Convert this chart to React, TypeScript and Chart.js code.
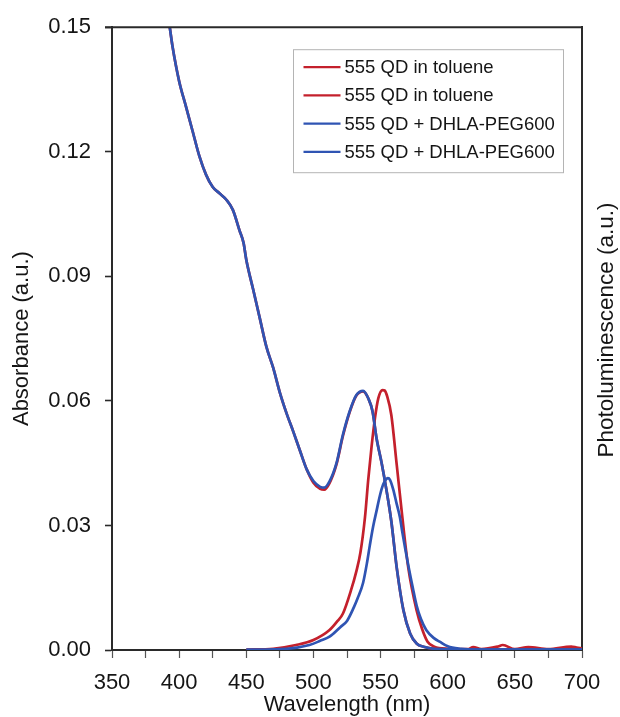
import React, { useEffect, useRef } from "react";
import { Chart, registerables } from "chart.js";

Chart.register(...registerables);

// ---- Data ----
const absWavelength = [385, 390, 393, 395, 400, 405, 410, 415, 420, 425, 430, 435, 440, 445, 448, 450, 455, 460, 465, 470, 475, 480, 485, 490, 495, 500, 505, 508, 512, 517, 522, 527, 532, 537, 541, 544, 547, 551, 554.5, 558, 562, 567, 572, 577, 582, 590, 620, 660, 700];
const absToluene = [0.166, 0.156, 0.150, 0.1455, 0.137, 0.131, 0.125, 0.119, 0.1145, 0.1115, 0.110, 0.1085, 0.106, 0.101, 0.098, 0.094, 0.087, 0.080, 0.073, 0.068, 0.062, 0.057, 0.0526, 0.048, 0.0435, 0.0403, 0.0388, 0.0386, 0.0402, 0.0445, 0.0516, 0.0573, 0.0613, 0.0623, 0.0605, 0.0575, 0.051, 0.0447, 0.0383, 0.031, 0.0199, 0.0096, 0.004, 0.0015, 0.0008, 0.0003, 0.0001, 0.0001, 0.0001];
const absDhla = [0.166, 0.156, 0.150, 0.1455, 0.137, 0.131, 0.125, 0.119, 0.1145, 0.1115, 0.110, 0.1085, 0.106, 0.101, 0.098, 0.094, 0.087, 0.080, 0.073, 0.068, 0.062, 0.057, 0.0526, 0.048, 0.0435, 0.0407, 0.0393, 0.0391, 0.0406, 0.0448, 0.0519, 0.0575, 0.0614, 0.0624, 0.0605, 0.0575, 0.051, 0.0447, 0.0383, 0.031, 0.0199, 0.0096, 0.004, 0.0015, 0.0008, 0.0003, 0.0001, 0.0001, 0.0001];

const plWavelength = [450, 470, 487, 500, 512, 518, 522, 528, 532, 535, 538.4, 540.8, 543.3, 545.8, 548.3, 551.5, 553, 555, 558, 562, 565.7, 570.6, 576.8, 581, 585, 590, 600, 615, 619, 625, 637, 641, 650, 660, 675, 692, 696, 700];
const plToluene = [0.0001, 0.0003, 0.0012, 0.0024, 0.0048, 0.007, 0.0088, 0.0144, 0.019, 0.0235, 0.032, 0.041, 0.049, 0.0558, 0.0606, 0.0626, 0.0625, 0.061, 0.0566, 0.0447, 0.0335, 0.0199, 0.0096, 0.005, 0.002, 0.0008, 0.0003, 0.0002, 0.0007, 0.0002, 0.0008, 0.0012, 0.0002, 0.0007, 0.0002, 0.0008, 0.0006, 0.0004];

const plDhlaWavelength = [450, 480, 497, 505, 512, 520, 525, 530, 533, 537, 540, 542, 544.5, 547, 549, 551, 553, 555.5, 557, 559.4, 562, 564.4, 566, 570.6, 574, 577, 580, 584, 590, 594, 600, 610, 620, 700];
const plDhla = [0.0001, 0.0003, 0.0012, 0.0022, 0.0032, 0.0055, 0.007, 0.0102, 0.0125, 0.0162, 0.0212, 0.0252, 0.0298, 0.0335, 0.0365, 0.039, 0.0406, 0.0414, 0.041, 0.0387, 0.0352, 0.032, 0.0288, 0.0205, 0.015, 0.0105, 0.0075, 0.0048, 0.0028, 0.002, 0.0009, 0.0003, 0.0001, 0.0001];

const xTicks = { min: 350, max: 700, step: 50, minorStep: 25 };
const yTicks = { min: 0, max: 0.15, step: 0.03 };

const labelToluene = "555 QD in toluene";
const labelDhla = "555 QD + DHLA-PEG600";

const RED = "#C4202C";
const BLUE = "#2F54B3";
const FONT = "'Liberation Sans', Arial, Helvetica, sans-serif";
const TEXT = "#151515";
const AXIS = "#2a2a2a";

const toPoints = (xs: number[], ys: number[]) => xs.map((x, i) => ({ x, y: ys[i] }));

const framePlugin = {
  id: "frameAndLegend",
  afterDraw(chart: any) {
    const { ctx, chartArea: ca } = chart;
    ctx.save();
    // top frame line
    ctx.strokeStyle = AXIS;
    ctx.lineWidth = 2;
    ctx.beginPath();
    ctx.moveTo(ca.left - 7, ca.top);
    ctx.lineTo(ca.right + 1, ca.top);
    ctx.stroke();

    // legend box
    const bx = ca.left + 181.5;
    const by = ca.top + 22.5;
    const bw = 270;
    const bh = 123;
    ctx.fillStyle = "#ffffff";
    ctx.fillRect(bx, by, bw, bh);
    ctx.strokeStyle = "#b4b4b4";
    ctx.lineWidth = 1;
    ctx.strokeRect(bx, by, bw, bh);
    const ds = chart.data.datasets;
    ctx.font = `18.5px ${FONT}`;
    ctx.textBaseline = "middle";
    ctx.textAlign = "left";
    ds.forEach((d: any, i: number) => {
      const y = by + 17.5 + i * 28.2;
      ctx.strokeStyle = d.borderColor;
      ctx.lineWidth = 2.2;
      ctx.beginPath();
      ctx.moveTo(bx + 10, y);
      ctx.lineTo(bx + 47, y);
      ctx.stroke();
      ctx.fillStyle = TEXT;
      ctx.fillText(d.label, bx + 51, y + 1);
    });

    // right axis title
    ctx.translate(607, 330);
    ctx.rotate(-Math.PI / 2);
    ctx.font = `22.5px ${FONT}`;
    ctx.textAlign = "center";
    ctx.textBaseline = "middle";
    ctx.fillStyle = TEXT;
    ctx.fillText("Photoluminescence (a.u.)", 0, 0);
    ctx.restore();
  },
};

export default function App() {
  const ref = useRef<HTMLCanvasElement | null>(null);

  useEffect(() => {
    if (!ref.current) return;
    const common = {
      showLine: true,
      pointRadius: 0,
      borderWidth: 2.7,
      fill: false,
      cubicInterpolationMode: "monotone" as const,
    };
    const chart = new Chart(ref.current, {
      type: "scatter",
      data: {
        datasets: [
          { ...common, label: labelToluene, data: toPoints(absWavelength, absToluene), borderColor: RED, backgroundColor: RED, order: 2 },
          { ...common, label: labelToluene, data: toPoints(plWavelength, plToluene), borderColor: RED, backgroundColor: RED, order: 2 },
          { ...common, label: labelDhla, data: toPoints(absWavelength, absDhla), borderColor: BLUE, backgroundColor: BLUE, order: 1 },
          { ...common, label: labelDhla, data: toPoints(plDhlaWavelength, plDhla), borderColor: BLUE, backgroundColor: BLUE, order: 1 },
        ],
      },
      options: {
        animation: false,
        responsive: true,
        maintainAspectRatio: false,
        layout: { padding: { top: 23, left: 0, right: 0, bottom: 0 } },
        plugins: {
          legend: { display: false },
          tooltip: { enabled: false },
        },
        scales: {
          x: {
            type: "linear",
            position: "bottom",
            min: xTicks.min,
            max: xTicks.max,
            ticks: {
              stepSize: xTicks.minorStep,
              autoSkip: false,
              maxRotation: 0,
              padding: 12,
              color: TEXT,
              font: { family: FONT, size: 22 },
              callback: (v: any) => (Number(v) % xTicks.step === 0 ? String(v) : ""),
            },
            grid: { drawOnChartArea: false, drawTicks: true, tickLength: 8, tickColor: "#555", tickWidth: 1.2 },
            border: { display: true, color: AXIS, width: 2 },
            title: {
              display: true,
              text: "Wavelength (nm)",
              color: TEXT,
              font: { family: FONT, size: 22 },
              padding: { top: 0, bottom: -1 },
            },
            afterFit: (s: any) => {
              s.height = 67;
            },
          },
          y: {
            type: "linear",
            position: "left",
            min: yTicks.min,
            max: yTicks.max,
            ticks: {
              stepSize: yTicks.step,
              padding: 14,
              color: TEXT,
              font: { family: FONT, size: 22 },
              callback: (v: any) => Number(v).toFixed(2),
            },
            grid: { drawOnChartArea: false, drawTicks: true, tickLength: 7, tickColor: AXIS, tickWidth: 1.6 },
            border: { display: true, color: AXIS, width: 2 },
            title: {
              display: true,
              text: "Absorbance (a.u.)",
              color: TEXT,
              font: { family: FONT, size: 22 },
              padding: { top: 9, bottom: 0 },
            },
            afterFit: (s: any) => {
              s.width = 112;
            },
          },
          y2: {
            type: "linear",
            position: "right",
            display: true,
            min: 0,
            max: 1,
            ticks: { display: false },
            grid: { display: false, drawTicks: false },
            border: { display: true, color: AXIS, width: 2 },
            afterFit: (s: any) => {
              s.width = 38;
            },
          },
        },
      },
      plugins: [framePlugin],
    });
    return () => chart.destroy();
  }, []);

  return (
    <div style={{ position: "fixed", left: 0, top: 0, width: 620, height: 717, background: "#fff" }}>
      <canvas ref={ref} />
    </div>
  );
}
